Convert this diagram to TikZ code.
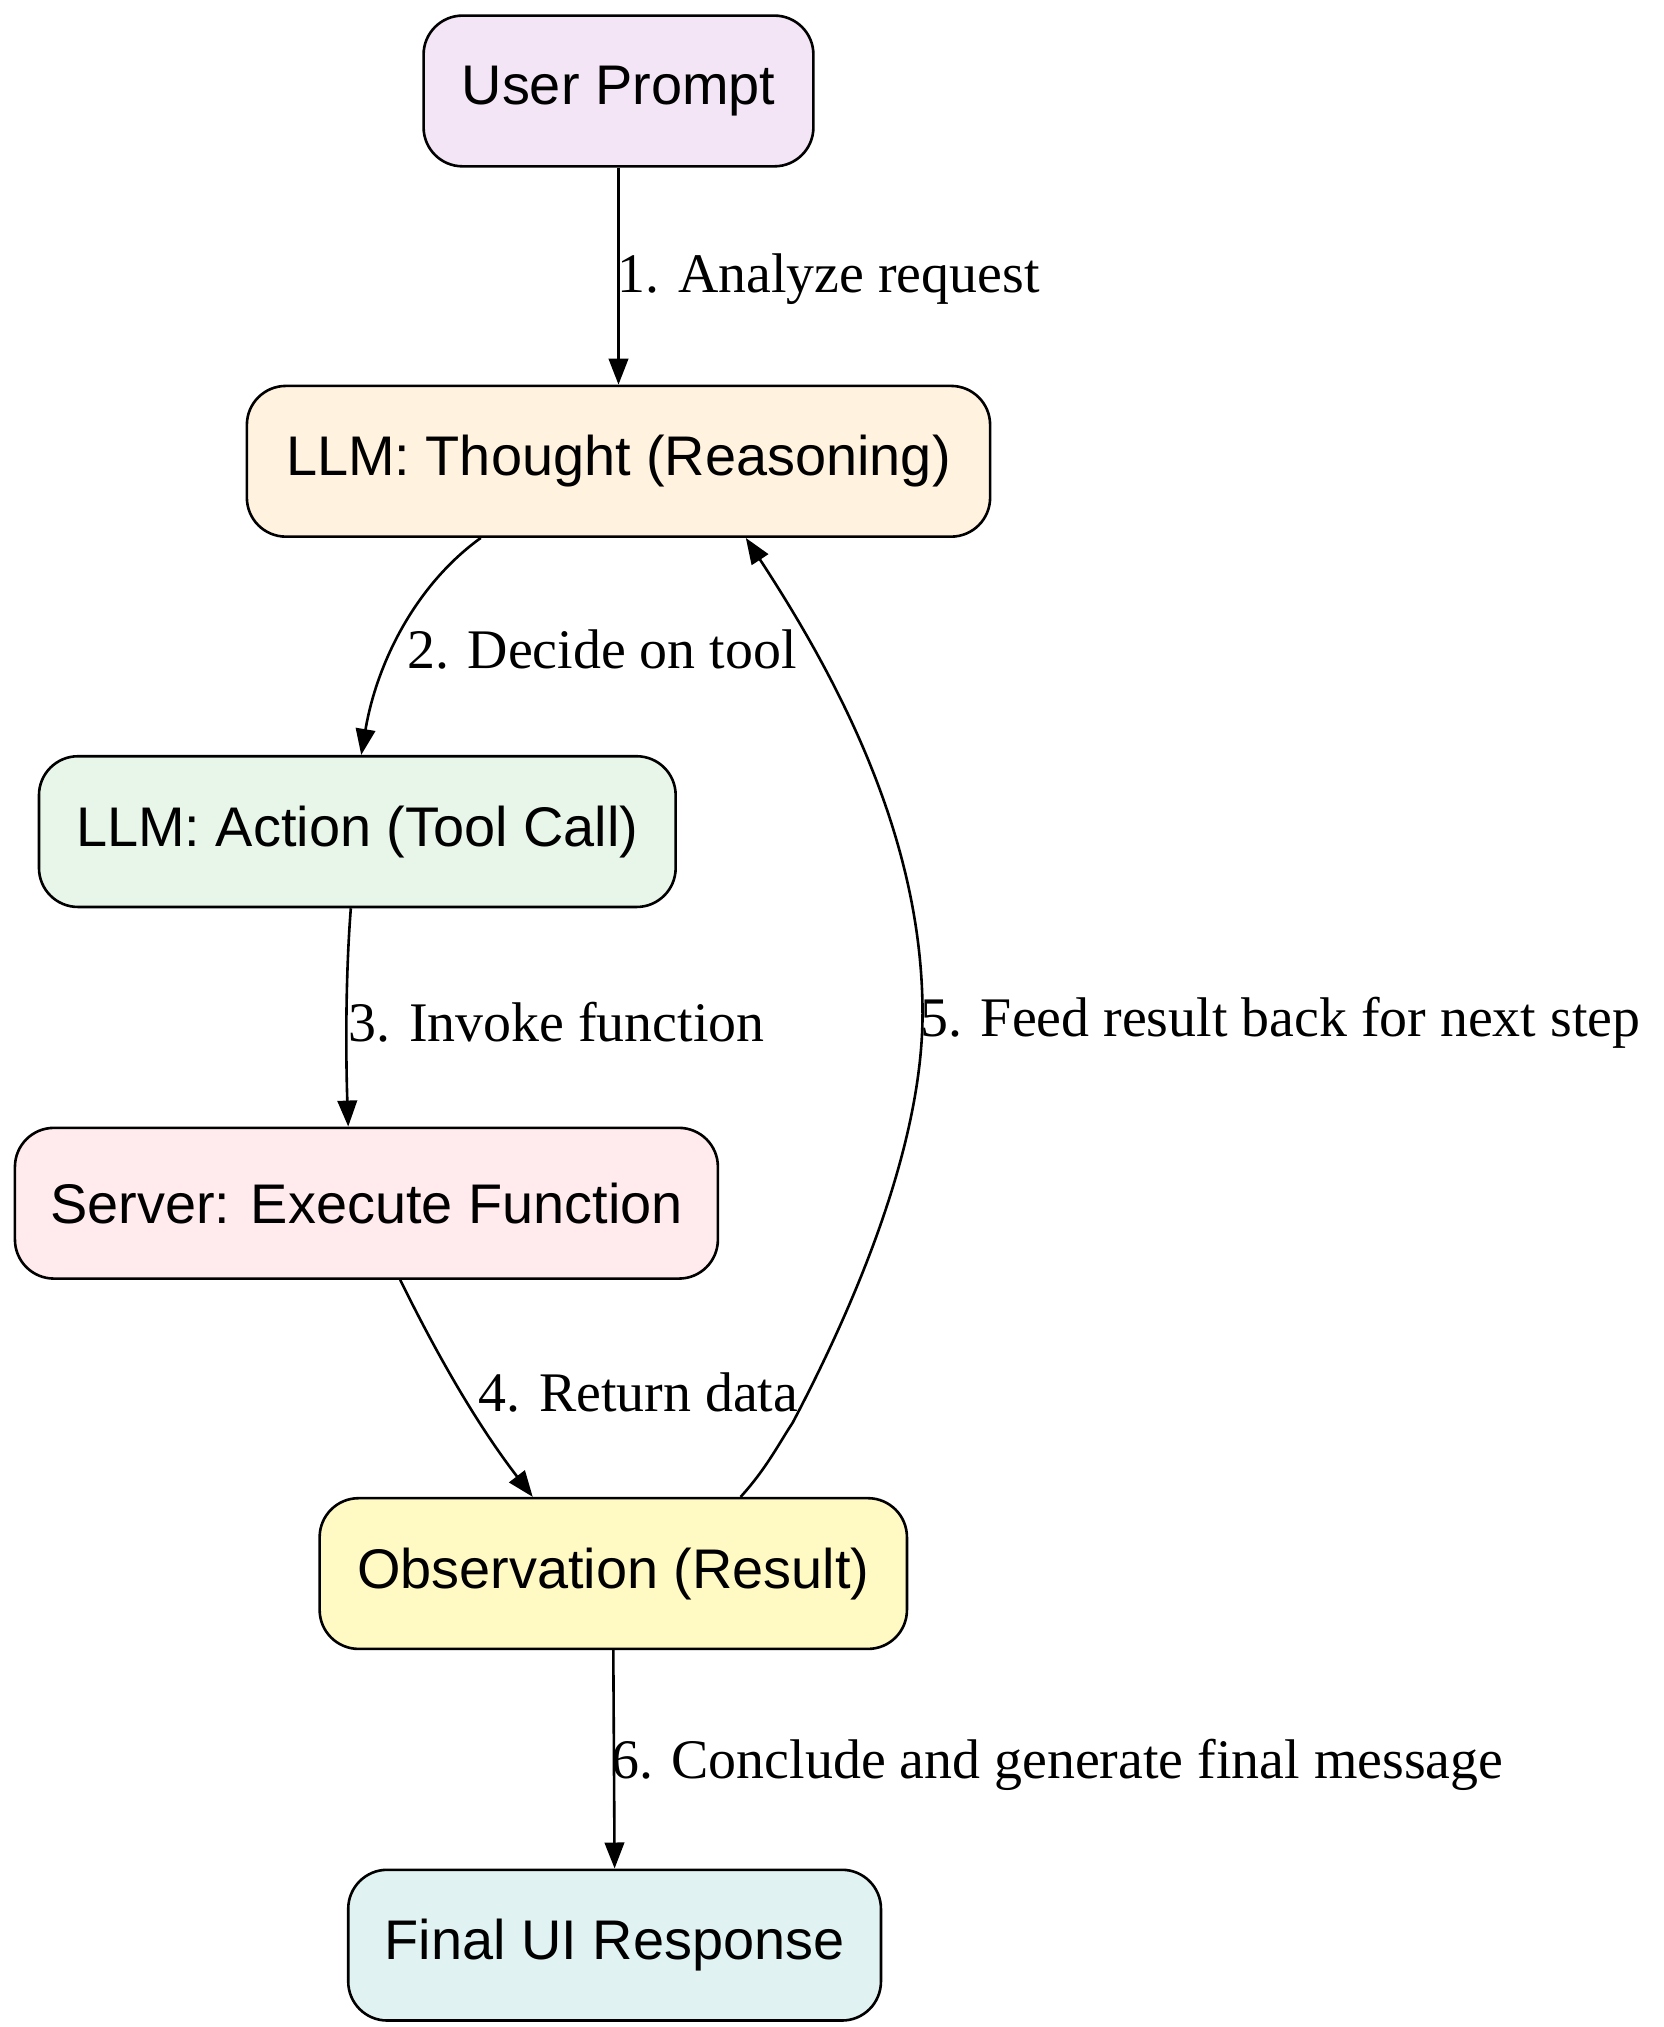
\documentclass[tikz,border=0pt]{standalone}
\usepackage{fontspec}
\setmainfont{Liberation Serif}
\newfontfamily\nodefont{Liberation Sans}
\usetikzlibrary{arrows.meta}
\begin{document}
\begin{tikzpicture}[x=0.5pt,y=-0.5pt,
  box/.style={draw,line width=1pt,rounded corners=15pt,font=\nodefont\fontsize{21.5}{24}\selectfont,inner sep=0pt},
  arr/.style={line width=1pt,-{Triangle[length=10pt,width=7.5pt]}},
  lab/.style={font=\fontsize{21.5}{24}\selectfont,anchor=west,inner sep=0pt}]
\useasboundingbox (0,0) rectangle (1280,1560);
\definecolor{c1}{HTML}{F3E5F5}\definecolor{c2}{HTML}{FFF3E0}\definecolor{c3}{HTML}{E8F5E9}
\definecolor{c4}{HTML}{FFEBEE}\definecolor{c5}{HTML}{FFF9C4}\definecolor{c6}{HTML}{E0F2F1}
\node[box,fill=c1,minimum width=150pt,minimum height=58pt] (u) at (476,70) {User Prompt};
\node[box,fill=c2,minimum width=286pt,minimum height=58pt] (t) at (476,355) {LLM: Thought (Reasoning)};
\node[box,fill=c3,minimum width=245pt,minimum height=58pt] (a) at (275,640) {LLM: Action (Tool Call)};
\node[box,fill=c4,minimum width=270.5pt,minimum height=58pt] (s) at (282,926) {Server: Execute Function};
\node[box,fill=c5,minimum width=226pt,minimum height=58pt] (o) at (472,1211) {Observation (Result)};
\node[box,fill=c6,minimum width=205pt,minimum height=58pt] (f) at (473,1497) {Final UI Response};
\draw[arr] (u.south) -- (t.north);
\draw[arr] ([xshift=-53pt]t.south) .. controls (320,450) and (290,510) .. ([xshift=1.5pt]a.north);
\draw[arr] ([xshift=-2.5pt]a.south) .. controls (266,750) and (266,810) .. ([xshift=-7pt]s.north);
\draw[arr] ([xshift=13pt]s.south) .. controls (340,1050) and (370,1100) .. ([xshift=-31pt]o.north);
\draw[arr] ([xshift=49pt]o.north) .. controls (590,1130) and (600,1110) .. (610,1095)
  .. controls (660,1000) and (710,880) .. (710,780)
  .. controls (710,650) and (650,530) .. ([xshift=49pt]t.south);
\draw[arr] (o.south) -- (f.north);
\node[lab] (l1) at (475,215) {1. Analyze request};
\node[lab] (l2) at (313,500) {2. Decide on tool};
\node[lab] (l3) at (268,787) {3. Invoke function};
\node[lab] (l5) at (708,787) {5. Feed result back for next step};
\node[lab] (l4) at (368,1072) {4. Return data};
\node[lab] (l6) at (470,1358) {6. Conclude and generate final message};
\end{tikzpicture}
\end{document}
